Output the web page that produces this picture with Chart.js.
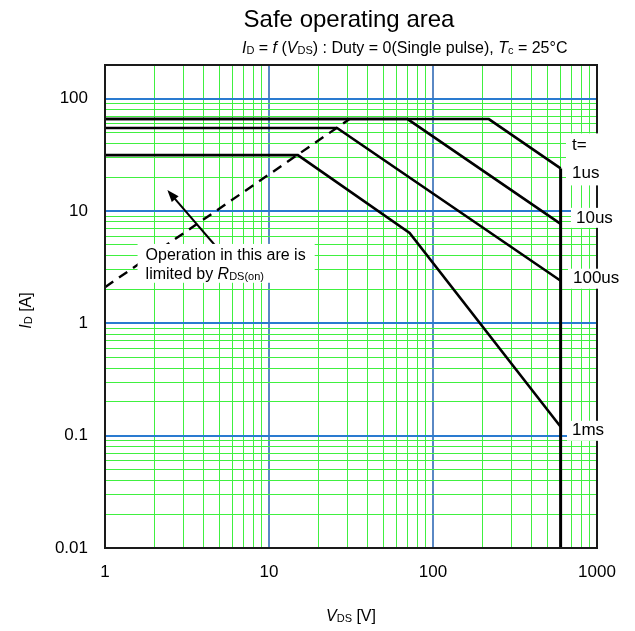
<!DOCTYPE html>
<html>
<head>
<meta charset="utf-8">
<script src="https://cdn.jsdelivr.net/npm/chart.js@4/dist/chart.umd.min.js"></script>
<style>
  html, body { margin: 0; padding: 0; background: #fff; }
  canvas { display: block; }
</style>
</head>
<body>
<canvas id="soa" width="635" height="631"></canvas>
<script>
// Break points of each pulse-width limit: drain-source voltage [V] and drain current [A]
const vds1us   = [1, 219, 600];
const id1us    = [66, 66, 24];
const vds10us  = [1, 70, 600];
const id10us   = [66, 66, 7.7];
const vds100us = [1, 26, 600];
const id100us  = [55, 55, 2.4];
const vds1ms   = [1, 15, 72, 600];
const id1ms    = [31.5, 31.5, 6.4, 0.12];

// Drain-source voltage rating (vertical limit)
const vdsRating   = [600, 600];
const idRatingEnd = [24, 0.01];

// On-resistance limited region (dashed)
const vdsRon = [1, 31];
const idRon  = [2.1, 66];

const pulseLabels = ['1us', '10us', '100us', '1ms'];

// Axis grid values and labels
const xGridValues = [1, 2, 3, 4, 5, 6, 7, 8, 9,
                     10, 20, 30, 40, 50, 60, 70, 80, 90,
                     100, 200, 300, 400, 500, 600, 700, 800, 900, 1000];
const xTickLabels = ['1', '10', '100', '1000'];
const yGridValues = [0.01, 0.02, 0.03, 0.04, 0.05, 0.06, 0.07, 0.08, 0.09,
                     0.1, 0.2, 0.3, 0.4, 0.5, 0.6, 0.7, 0.8, 0.9,
                     1, 2, 3, 4, 5, 6, 7, 8, 9,
                     10, 20, 30, 40, 50, 60, 70, 80, 90, 100];
const yTickLabels = ['0.01', '0.1', '1', '10', '100'];

const FONT = "'Liberation Sans', Arial, Helvetica, sans-serif";
const GREEN = 'rgb(64, 240, 64)';
const BLUE_H = '#2a7bd0';
const BLUE_V = '#5a88c4';

const isDecade = v => Math.abs(Math.log10(v) - Math.round(Math.log10(v))) < 1e-9;
const pts = (xs, ys) => xs.map((v, i) => ({ x: v, y: ys[i] }));

function series(xs, ys, extra) {
  return Object.assign({
    data: pts(xs, ys),
    showLine: true,
    borderColor: '#000',
    borderWidth: 2.6,
    pointRadius: 0,
    fill: false,
    tension: 0
  }, extra || {});
}

const datasets = [
  series(vds1us, id1us),
  series(vds10us, id10us),
  series(vds100us, id100us),
  series(vds1ms, id1ms),
  series(vdsRating, idRatingEnd, { borderWidth: 3, clip: 4 }),
  series(vdsRon, idRon, { borderDash: [10, 7], borderWidth: 2.4 })
];

// Draw a run of text pieces (italic / small) on one baseline
function richWidth(ctx, segs, size, small) {
  let w = 0;
  segs.forEach(s => {
    ctx.font = (s.it ? 'italic ' : '') + (s.sub ? small : size) + 'px ' + FONT;
    w += ctx.measureText(s.t).width;
  });
  return w;
}
function drawRich(ctx, segs, x, y, size, small, align) {
  const w = richWidth(ctx, segs, size, small);
  let cx = align === 'center' ? x - w / 2 : x;
  ctx.textBaseline = 'alphabetic';
  ctx.textAlign = 'left';
  segs.forEach(s => {
    ctx.font = (s.it ? 'italic ' : '') + (s.sub ? small : size) + 'px ' + FONT;
    ctx.fillText(s.t, cx, y + (s.sub ? 1 : 0));
    cx += ctx.measureText(s.t).width;
  });
}

const decor = {
  id: 'decor',
  afterDraw(chart) {
    const { ctx, chartArea: a, scales: { x, y } } = chart;
    ctx.save();
    ctx.fillStyle = '#000';

    // plot frame
    ctx.strokeStyle = '#1a1a1a';
    ctx.lineWidth = 2;
    ctx.strokeRect(a.left, a.top, a.right - a.left, a.bottom - a.top);

    // arrow pointing into the on-resistance limited region
    const tx = x.getPixelForValue(2.4), ty = y.getPixelForValue(15.4);
    const sx = x.getPixelForValue(4.9), sy = y.getPixelForValue(4.6);
    const ang = Math.atan2(ty - sy, tx - sx);
    ctx.strokeStyle = '#000';
    ctx.lineWidth = 2;
    ctx.beginPath();
    ctx.moveTo(sx, sy);
    ctx.lineTo(tx - 8 * Math.cos(ang), ty - 8 * Math.sin(ang));
    ctx.stroke();
    ctx.beginPath();
    ctx.moveTo(tx, ty);
    ctx.lineTo(tx - 12 * Math.cos(ang) + 4.5 * Math.sin(ang), ty - 12 * Math.sin(ang) - 4.5 * Math.cos(ang));
    ctx.lineTo(tx - 12 * Math.cos(ang) - 4.5 * Math.sin(ang), ty - 12 * Math.sin(ang) + 4.5 * Math.cos(ang));
    ctx.closePath();
    ctx.fill();

    // note about the on-resistance limit
    const bl = x.getPixelForValue(1.58), br = x.getPixelForValue(19);
    const bt = y.getPixelForValue(5.1), bb = y.getPixelForValue(2.3);
    ctx.fillStyle = '#fff';
    ctx.fillRect(bl, bt, br - bl, bb - bt);
    ctx.fillStyle = '#000';
    drawRich(ctx, [{ t: 'Operation in this are is' }], bl + 8, bt + 16, 16, 11, 'left');
    drawRich(ctx, [{ t: 'limited by ' }, { t: 'R', it: true }, { t: 'DS(on)', sub: true }],
             bl + 8, bt + 35, 16, 11, 'left');

    // pulse width labels at the right end of each limit
    const ends = [id1us, id10us, id100us, id1ms].map(arr => y.getPixelForValue(arr[arr.length - 1]));
    const dy = [5, -6, -2, 4];
    const lx = [572, 576, 573, 572];
    const centers = ends.map((e, i) => e + dy[i]);
    ctx.fillStyle = '#fff';
    ctx.fillRect(566, centers[0] - 40, 64, 52);
    for (let i = 1; i < centers.length; i++) {
      ctx.fillRect(lx[i] - 5, centers[i] - 10, 60, 20);
    }
    ctx.fillStyle = '#000';
    ctx.font = '17px ' + FONT;
    ctx.textAlign = 'left';
    ctx.textBaseline = 'middle';
    ctx.fillText('t=', lx[0], centers[0] - 28);
    pulseLabels.forEach((t, i) => ctx.fillText(t, lx[i], centers[i]));

    // titles
    ctx.font = '24px ' + FONT;
    ctx.textAlign = 'center';
    ctx.textBaseline = 'alphabetic';
    ctx.fillText('Safe operating area', 349, 27);
    drawRich(ctx, [
      { t: 'I', it: true }, { t: 'D', sub: true }, { t: ' = ' }, { t: 'f', it: true }, { t: ' (' },
      { t: 'V', it: true }, { t: 'DS', sub: true }, { t: ') : Duty = 0(Single pulse), ' },
      { t: 'T', it: true }, { t: 'c', sub: true }, { t: ' = 25°C' }
    ], 242, 53, 16, 11, 'left');

    // axis titles
    drawRich(ctx, [{ t: 'V', it: true }, { t: 'DS', sub: true }, { t: ' [V]' }],
             (a.left + a.right) / 2, 621, 16, 11, 'center');
    ctx.translate(31, (a.top + a.bottom) / 2 + 4);
    ctx.rotate(-Math.PI / 2);
    drawRich(ctx, [{ t: 'I', it: true }, { t: 'D', sub: true }, { t: ' [A]' }], 0, 0, 16, 11, 'center');
    ctx.restore();
  }
};

function gridColor(horizontal) {
  return c => (c.tick && isDecade(c.tick.value)) ? (horizontal ? BLUE_H : BLUE_V) : GREEN;
}
function gridWidth(c) {
  return (c.tick && isDecade(c.tick.value)) ? 2 : 1;
}

new Chart(document.getElementById('soa'), {
  type: 'scatter',
  data: { datasets },
  options: {
    responsive: false,
    animation: false,
    events: [],
    layout: { padding: { top: 65, right: 38, left: 0, bottom: 0 } },
    plugins: { legend: { display: false }, tooltip: { enabled: false }, title: { display: false } },
    scales: {
      x: {
        type: 'logarithmic',
        min: 1,
        max: 1000,
        afterBuildTicks: s => { s.ticks = xGridValues.map(v => ({ value: v, major: isDecade(v) })); },
        afterFit: s => { s.height = 83; },
        ticks: {
          autoSkip: false,
          maxRotation: 0,
          padding: 14,
          color: '#000',
          font: { family: FONT, size: 17 },
          callback: v => isDecade(v) ? xTickLabels[Math.round(Math.log10(v))] : ''
        },
        grid: { color: gridColor(false), lineWidth: gridWidth, drawTicks: false },
        border: { display: false }
      },
      y: {
        type: 'logarithmic',
        min: 0.01,
        max: 200,
        afterBuildTicks: s => { s.ticks = yGridValues.map(v => ({ value: v, major: isDecade(v) })); },
        afterFit: s => { s.width = 105; },
        ticks: {
          autoSkip: false,
          padding: 17,
          color: '#000',
          font: { family: FONT, size: 17 },
          callback: v => isDecade(v) ? yTickLabels[Math.round(Math.log10(v)) + 2] : ''
        },
        grid: { color: gridColor(true), lineWidth: gridWidth, drawTicks: false },
        border: { display: false }
      }
    }
  },
  plugins: [decor]
});
</script>
</body>
</html>
